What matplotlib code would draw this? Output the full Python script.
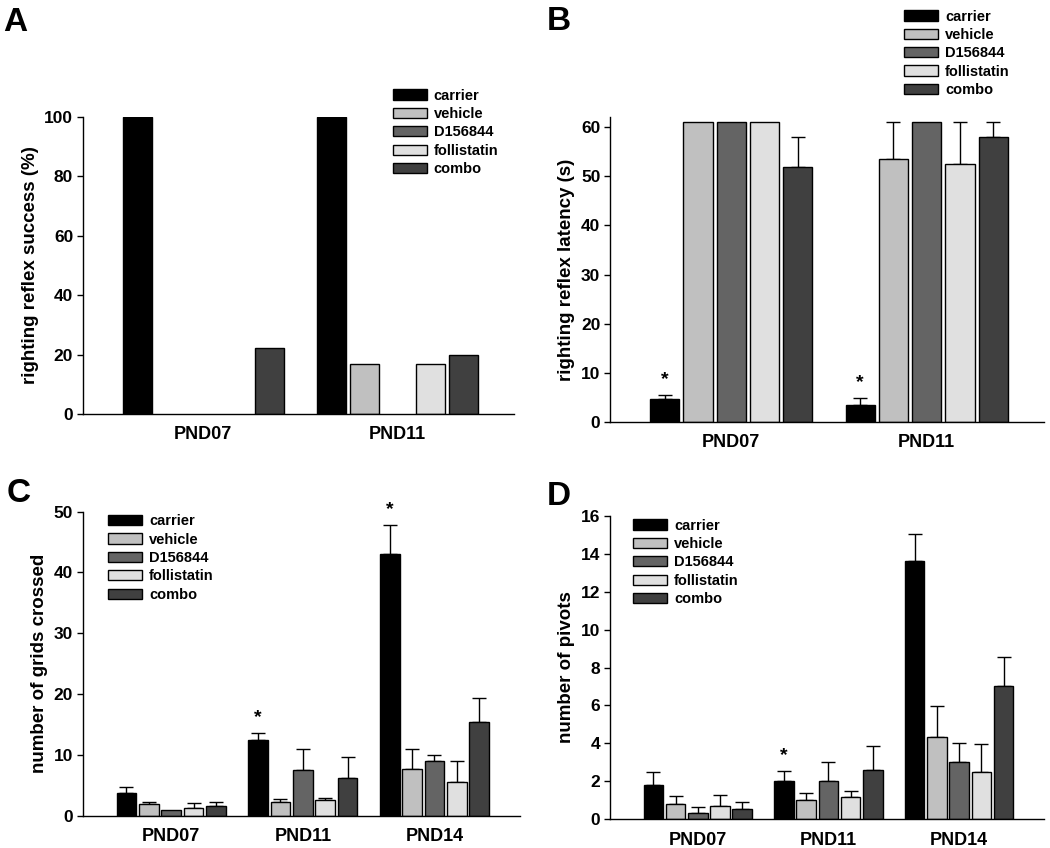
import numpy as np
import matplotlib
matplotlib.use("Agg")
import matplotlib.pyplot as plt

# ====== Data ======
treatments = ["carrier", "vehicle", "D156844", "follistatin", "combo"]
bar_colors = ["#000000", "#c0c0c0", "#646464", "#e0e0e0", "#404040"]

days_ab = ["PND07", "PND11"]
days_cd = ["PND07", "PND11", "PND14"]

# A: righting reflex success (%), rows = treatments
success_mean = [[100, 100], [0, 16.7], [0, 0], [0, 16.7], [22.2, 20]]

# B: righting reflex latency (s)
latency_mean = [[4.6, 3.4], [61, 53.6], [61, 61], [61, 52.4], [51.8, 57.9]]
latency_err = [[0.8, 1.5], [0, 7.4], [0, 0], [0, 8.6], [6.2, 3.1]]
latency_star = [[True, True], [False, False], [False, False], [False, False], [False, False]]

# C: number of grids crossed
grids_mean = [[3.7, 12.4, 43.1], [1.9, 2.2, 7.7], [1.0, 7.5, 9.05], [1.2, 2.5, 5.6], [1.6, 6.25, 15.45]]
grids_err = [[1.0, 1.25, 4.75], [0.3, 0.5, 3.25], [0, 3.45, 1.0], [0.85, 0.45, 3.45], [0.6, 3.45, 3.85]]
grids_star = [[False, True, True], [False] * 3, [False] * 3, [False] * 3, [False] * 3]

# D: number of pivots
pivots_mean = [[1.81, 2.02, 13.61], [0.83, 1.0, 4.34], [0.35, 2.0, 3.0], [0.72, 1.16, 2.51], [0.56, 2.6, 7.01]]
pivots_err = [[0.7, 0.54, 1.41], [0.42, 0.37, 1.65], [0.3, 1.0, 1.0], [0.56, 0.32, 1.48], [0.35, 1.28, 1.54]]
pivots_star = [[False, True, False], [False] * 3, [False] * 3, [False] * 3, [False] * 3]

# ====== Style ======
plt.rcParams["font.family"] = ["Liberation Sans", "DejaVu Sans"]
plt.rcParams["font.weight"] = "bold"
plt.rcParams["axes.labelweight"] = "bold"
plt.rcParams["axes.linewidth"] = 1.0

STEP = 0.17
WIDTH = 0.15

fig = plt.figure(figsize=(10.5, 8.48), dpi=100)


def draw_panel(rect, days, means, errs, stars, ylim, yticks, ylabel, xlim, leg_xy, letter, letter_xy):
    ax = fig.add_axes(rect)
    x0 = np.arange(len(days))
    handles = []
    for i, name in enumerate(treatments):
        xs = x0 + (i - 2) * STEP
        m = np.array(means[i], dtype=float)
        # zero bars get no outline (nothing is visible in the original)
        lw = np.where(m > 0, 1.0, 0.0)
        h = ax.bar(xs, m, WIDTH, color=bar_colors[i], edgecolor="black", linewidth=lw,
                   label=name, zorder=2)
        handles.append(h)
        if errs is not None:
            e = np.array(errs[i], dtype=float)
            ok = e > 0
            ax.errorbar(xs[ok], m[ok], yerr=[np.zeros(ok.sum()), e[ok]], fmt="none",
                        ecolor="black", elinewidth=1.0, capsize=5, capthick=1.0, zorder=1)
            for j in range(len(days)):
                if stars[i][j]:
                    ax.annotate("*", (xs[j], m[j] + e[j]), xytext=(0, 8), textcoords="offset points",
                                ha="center", va="baseline", fontsize=14, fontweight="bold")
    ax.set_xlim(*xlim)
    ax.set_ylim(*ylim)
    ax.set_yticks(yticks)
    ax.set_xticks(x0)
    ax.set_xticklabels(days, fontsize=13, fontweight="bold")
    ax.tick_params(axis="x", length=0, pad=9)
    ax.tick_params(axis="y", length=4, width=1.0, pad=3, labelsize=12.5)
    for lab in ax.get_yticklabels():
        lab.set_fontweight("bold")
    ax.spines["top"].set_visible(False)
    ax.spines["right"].set_visible(False)
    ax.set_ylabel(ylabel, fontsize=13.5, fontweight="bold", labelpad=4)
    leg = ax.legend(handles=handles, loc="upper left", bbox_to_anchor=leg_xy, bbox_transform=fig.transFigure,
                    frameon=False, fontsize=10.5, handlelength=2.3, handleheight=0.7, handletextpad=0.5,
                    labelspacing=0.3, borderpad=0, borderaxespad=0)
    for h in leg.legend_handles:
        h.set_linewidth(1.0)
    fig.text(letter_xy[0], letter_xy[1], letter, fontsize=24, fontweight="bold", va="baseline")
    return ax


draw_panel([0.079, 0.5118, 0.4105, 0.3502], days_ab, success_mean, None, None,
           (0, 100), [0, 20, 40, 60, 80, 100], "righting reflex success (%)",
           (-0.62, 1.60), (0.3743, 0.8955), "A", (0.003, 1 - 31 / 848))

draw_panel([0.581, 0.5024, 0.4133, 0.3593], days_ab, latency_mean, latency_err, latency_star,
           (0, 62), [0, 10, 20, 30, 40, 50, 60], "righting reflex latency (s)",
           (-0.62, 1.60), (0.861, 0.9887), "B", (0.521, 1 - 30 / 848))

draw_panel([0.0788, 0.0381, 0.4165, 0.3585], days_cd, grids_mean, grids_err, grids_star,
           (0, 50), [0, 10, 20, 30, 40, 50], "number of grids crossed",
           (-0.672, 2.65), (0.1031, 0.3935), "C", (0.006, 1 - 502 / 848))

draw_panel([0.581, 0.0338, 0.4133, 0.358], days_cd, pivots_mean, pivots_err, pivots_star,
           (0, 16), [0, 2, 4, 6, 8, 10, 12, 14, 16], "number of pivots",
           (-0.672, 2.65), (0.603, 0.3884), "D", (0.521, 1 - 505 / 848))

plt.savefig("out.png", dpi=100)
